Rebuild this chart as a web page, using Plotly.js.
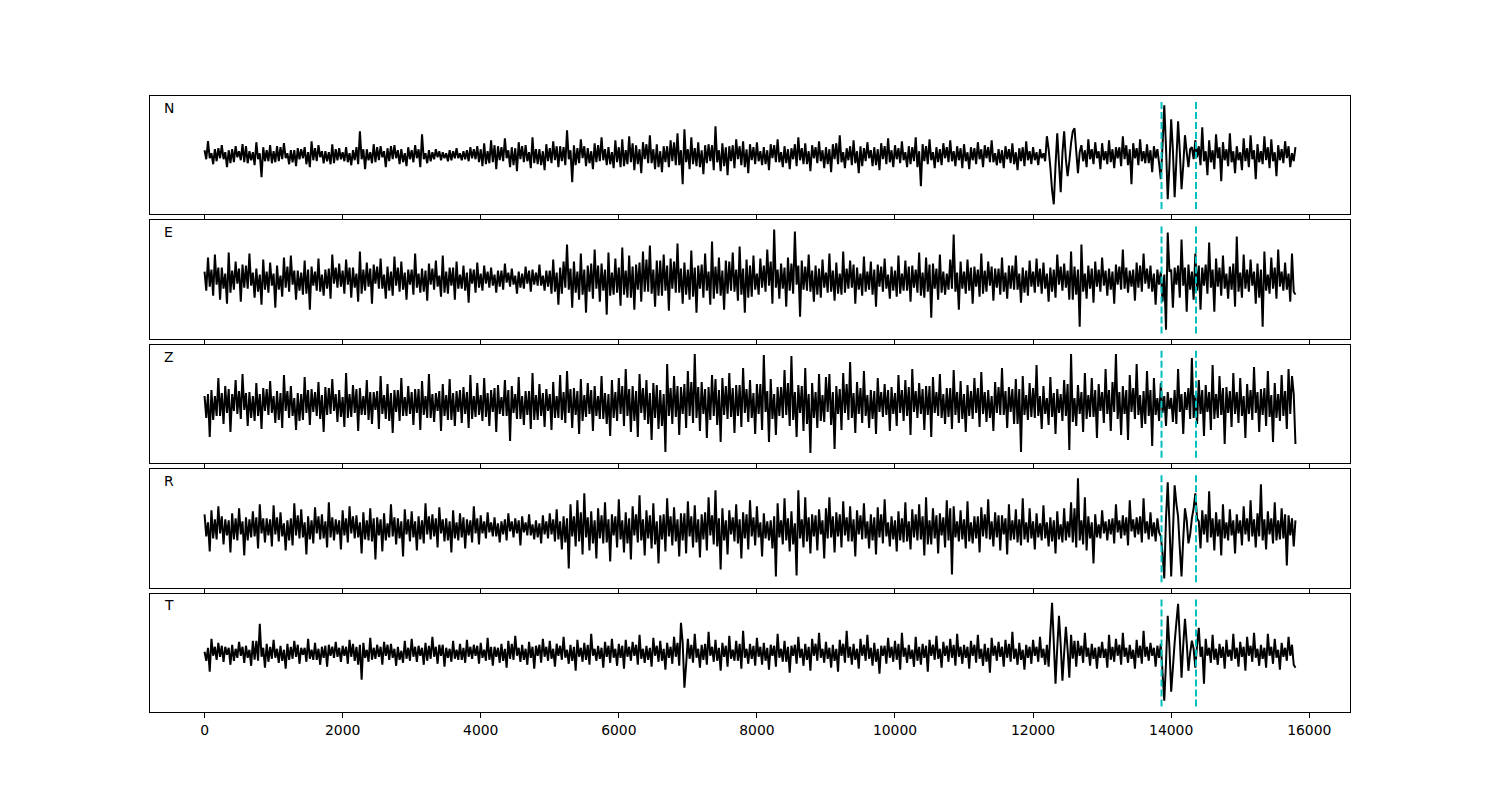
<!DOCTYPE html>
<html>
<head>
<meta charset="utf-8">
<script src="https://cdn.plot.ly/plotly-3.0.1.min.js"></script>
<style>html,body{margin:0;padding:0;background:#fff;}#chart{width:1500px;height:800px;}</style>
</head>
<body>
<div id="chart"></div>
<script>
const sampleStep = 25;
const channelNames = ["N", "E", "Z", "R", "T"];
const pickTimes = [13860, 14360];
const pickExtent = 53.8;
const xTickVals = [0, 2000, 4000, 6000, 8000, 10000, 12000, 14000, 16000];
const xTickText = ["0", "2000", "4000", "6000", "8000", "10000", "12000", "14000", "16000"];

const traceN = [
5,-4,14,-3,2,-9,6,-6,7,-3,10,-4,3,-12,5,-8,6,-7,9,-2,4,-5,11,-7,9,-8,4,-5,3,-10,13,-4,2,-22,8,-6,5,-6,10,-8,
4,-7,9,-6,8,-4,12,-3,2,-9,5,-7,5,-11,7,-4,6,-3,8,-9,3,-12,14,-5,7,-6,10,-2,4,-8,4,-6,3,-9,11,-8,6,-5,7,-4,
3,-6,8,-7,2,-10,5,-5,8,-9,24,-4,6,-14,6,-5,3,-8,11,-7,8,-5,9,-2,4,-12,7,-6,9,-4,10,-3,5,-9,6,-7,2,-11,8,-4,
5,-7,10,-3,6,-12,21,-4,2,-8,5,-6,3,-4,6,-2,4,-5,3,-3,2,-6,5,-5,4,-3,7,-3,2,-5,4,-4,5,-6,8,-3,6,-4,9,-7,
6,-11,12,-9,4,-8,15,-7,10,-14,9,-5,8,-6,17,-3,5,-12,8,-10,7,-16,13,-4,9,-7,10,-6,3,-13,18,-8,6,-9,6,-10,4,-15,11,-6,
7,-8,14,-5,9,-12,9,-6,8,-10,25,-4,5,-27,10,-10,7,-8,16,-3,9,-11,7,-8,4,-14,12,-7,10,-6,18,-5,6,-10,8,-9,3,-13,15,-7,
8,-12,16,-11,5,-9,19,-7,12,-15,10,-9,6,-18,13,-4,11,-8,20,-8,6,-14,11,-12,4,-17,9,-7,9,-12,15,-6,13,-10,22,-10,5,-29,26,-7,
6,-14,18,-9,7,-11,13,-12,5,-19,10,-8,11,-6,10,-15,29,-7,5,-16,12,-11,8,-20,9,-6,10,-13,16,-4,9,-10,14,-12,6,-18,11,-5,8,-9,
13,-6,4,-10,8,-9,5,-15,11,-3,10,-7,16,-7,3,-12,9,-8,6,-14,7,-4,11,-11,18,-5,7,-9,12,-9,4,-16,10,-3,8,-8,14,-6,5,-13,
8,-9,6,-17,11,-4,12,-9,20,-7,3,-13,7,-5,9,-10,15,-8,4,-18,9,-11,7,-6,13,-3,5,-11,8,-10,6,-15,12,-4,9,-9,17,-7,5,-12,
10,-4,7,-8,14,-5,3,-12,9,-9,8,-6,18,-12,4,-31,11,-6,9,-9,16,-5,3,-13,8,-7,6,-10,12,-3,8,-7,15,-6,4,-11,9,-5,7,-13,
11,-6,3,-14,8,-5,7,-9,13,-4,6,-12,10,-3,8,-7,15,-7,2,-10,6,-8,5,-13,9,-4,6,-8,12,-9,3,-15,7,-6,8,-11,14,-5,4,-9,
8,-5,3,-10,6,-3,2,-6,19,6,-12,-35,-49,-10,22,-8,-37,2,24,-4,-21,-6,12,24,27,4,-18,3,10,-6,5,-12,16,-4,6,-9,13,-3,4,-14,
12,-5,4,-9,15,-7,6,-13,8,-3,8,-11,19,-4,10,-10,6,-29,12,-3,7,-10,16,-6,4,-8,11,-8,5,-17,9,-3,6,-8,-24,10,50,8,-44,-10,
36,5,-42,-6,34,4,-34,-10,20,3,-12,6,8,-4,15,-2,9,-10,28,-6,4,-20,15,-7,5,-14,21,-3,8,-26,13,-5,6,-11,22,-7,4,-18,9,-5,
3,-15,17,-6,7,-12,20,-4,5,-24,11,-7,4,-9,19,-5,8,-13,16,-6,3,-21,10,-5,6,-8,14,-3,9,-12,2,-6,8
];
const traceE = [
8,-11,22,-7,10,-16,25,-5,12,-20,12,-9,6,-24,27,-13,9,-10,18,-4,11,-22,15,-8,14,-9,26,-6,7,-18,11,-12,5,-25,20,-10,8,-13,17,-6,
6,-28,14,-10,4,-17,22,-8,13,-12,24,-5,9,-20,9,-11,7,-15,19,-14,10,-30,13,-6,8,-11,21,-12,5,-16,10,-9,11,-19,25,-4,12,-8,16,-7,
9,-14,20,-5,12,-18,12,-8,6,-22,28,-14,10,-11,17,-7,11,-24,15,-4,13,-9,21,-9,5,-19,13,-11,8,-16,23,-6,12,-12,18,-10,7,-20,10,-5,
10,-15,26,-8,6,-13,11,-12,9,-21,16,-5,11,-10,19,-7,4,-17,24,-13,8,-14,12,-6,12,-20,18,-9,5,-9,14,-11,7,-23,11,-4,10,-13,17,-8,
6,-11,14,-4,8,-8,12,-6,5,-13,9,-7,9,-10,16,-3,7,-7,11,-5,4,-14,8,-8,6,-9,13,-4,9,-12,10,-5,7,-6,15,-6,4,-11,9,-7,
9,-14,20,-12,7,-25,12,-14,18,-8,35,-10,11,-28,18,-13,8,-20,26,-15,10,-33,14,-12,16,-19,30,-9,14,-22,16,-11,10,-35,27,-16,7,-15,21,-13,
12,-26,32,-15,9,-18,24,-18,13,-30,15,-10,17,-22,28,-12,20,-12,34,-14,10,-27,19,-16,19,-16,25,-11,14,-31,21,-9,18,-13,36,-13,11,-24,17,-15,
10,-20,29,-17,12,-33,14,-9,15,-18,26,-11,8,-25,38,-19,13,-14,22,-16,9,-30,19,-14,18,-11,27,-12,10,-21,33,-15,11,-33,20,-18,14,-17,24,-10,
6,-15,21,-8,14,-12,30,-6,18,-24,50,-8,10,-19,16,-9,12,-27,22,-11,16,-14,48,-5,14,-37,19,-10,13,-11,25,-12,9,-22,14,-15,11,-18,20,-8,
7,-13,26,-12,9,-21,17,-14,6,-15,28,-13,11,-9,19,-8,15,-24,12,-10,6,-16,23,-12,8,-10,18,-15,10,-27,15,-7,13,-12,21,-9,5,-19,13,-11,
9,-17,24,-14,6,-11,19,-11,13,-22,14,-8,10,-13,27,-16,7,-18,22,-12,15,-38,16,-9,11,-20,25,-13,8,-15,6,-10,20,-9,45,-12,7,-30,18,-9,
8,-14,20,-11,12,-24,13,-7,10,-17,26,-14,9,-12,18,-6,13,-21,11,-8,11,-15,22,-12,7,-19,14,-9,14,-10,24,-10,6,-23,12,-13,9,-16,19,-7,
8,-13,21,-7,11,-14,17,-9,6,-22,12,-12,10,-18,25,-5,13,-11,16,-8,9,-20,28,-20,13,-15,10,-47,35,-12,6,-19,14,-9,11,-23,18,-7,10,-12,
22,-6,9,-16,11,-10,8,-24,15,-5,13,-10,30,-9,12,-13,9,-7,10,-21,17,-8,14,-12,26,-4,11,-9,14,-12,6,-25,10,-5,8,-22,5,-50,47,8,
10,-28,12,-5,14,-18,40,-6,12,-32,15,-10,8,-20,26,-11,14,-30,12,-6,15,-14,37,-8,10,-32,21,-7,12,-16,24,-9,6,-19,13,-10,16,-27,43,-12,
7,-18,25,-9,10,-12,20,-6,8,-24,16,-18,10,-47,28,-11,5,-14,22,-9,12,-19,30,-7,8,-11,17,-10,6,-22,26,-12,-15
];
const traceZ = [
8,-14,10,-33,14,-16,8,-12,26,-12,11,-20,18,-9,15,-28,10,-7,24,-10,13,-15,30,-6,11,-22,12,-14,8,-17,21,-12,10,-25,16,-7,15,-11,23,-9,
8,-19,13,-16,11,-24,29,-7,13,-14,18,-12,6,-26,11,-17,10,-16,27,-9,14,-21,15,-8,12,-12,22,-15,9,-28,17,-11,16,-10,25,-7,10,-18,14,-13,
7,-23,31,-14,10,-13,19,-9,15,-27,16,-11,8,-11,24,-16,12,-20,12,-6,13,-25,28,-10,9,-15,20,-17,11,-29,14,-8,14,-17,26,-12,7,-12,18,-10,
12,-21,15,-9,15,-26,23,-11,8,-14,30,-14,10,-18,11,-7,13,-27,20,-12,9,-16,25,-16,11,-22,13,-8,14,-19,17,-10,12,-24,29,-15,8,-13,21,-11,
9,-17,26,-13,11,-22,14,-8,16,-28,19,-10,7,-12,24,-12,14,-37,18,-9,10,-15,27,-15,8,-21,13,-11,13,-25,31,-16,9,-16,20,-12,11,-23,15,-7,
10,-26,22,-14,8,-14,29,-16,12,-19,33,-9,15,-24,16,-11,13,-30,25,-17,9,-13,21,-10,14,-27,18,-12,8,-15,28,-15,11,-20,10,-32,24,-14,12,-17,
26,-10,18,-22,35,-12,15,-28,18,-17,13,-33,30,-9,16,-16,24,-20,11,-36,21,-14,19,-25,14,-22,10,-48,40,-12,16,-20,28,-13,18,-31,17,-10,20,-24,
33,-12,22,-19,50,-14,17,-27,22,-10,15,-34,17,-16,29,-12,25,-21,14,-38,26,-11,18,-15,31,-13,16,-29,19,-12,19,-23,36,-9,15,-18,24,-14,11,-30,
20,-10,20,-26,49,-8,13,-38,25,-15,10,-31,17,-12,17,-14,34,-11,21,-22,48,-16,12,-33,19,-9,18,-27,36,-20,10,-49,21,-14,12,-24,30,-17,9,-18,
27,-8,30,-21,12,-45,18,-10,15,-26,31,-9,20,-16,42,-14,11,-29,22,-10,16,-19,33,-12,9,-24,14,-15,13,-30,26,-8,12,-13,20,-11,14,-27,17,-10,
11,-22,29,-9,14,-17,24,-12,17,-31,35,-8,13,-14,21,-10,15,-26,18,-11,18,-33,27,-9,12,-12,30,-14,10,-20,16,-13,16,-25,34,-11,12,-19,23,-15,
10,-28,19,-12,13,-15,26,-9,16,-23,32,-10,12,-18,14,-14,8,-27,22,-9,17,-11,36,-11,13,-24,17,-8,15,-20,25,-20,15,-48,28,-11,9,-16,21,-13,
16,-14,39,-12,8,-25,18,-10,6,-21,27,-13,11,-30,15,-9,10,-17,24,-12,20,-46,50,-18,6,-22,19,-10,12,-28,31,-15,9,-13,26,-13,14,-34,20,-7,
12,-19,35,-10,14,-27,22,-8,50,-15,12,-31,18,-10,14,-36,29,-8,16,-15,40,-11,9,-24,13,-20,33,-12,14,-42,26,-11,6,-17,21,-9,8,-22,12,-5,
6,-18,14,-20,35,-8,10,-30,12,-6,16,-15,46,-14,9,-20,24,-10,14,-32,19,-8,12,-26,39,-15,10,-14,28,-11,16,-40,17,-9,13,-23,31,-10,12,-19,
26,-12,8,-34,20,-10,14,-16,37,-9,12,-28,15,-11,16,-22,33,-13,9,-38,21,-14,10,-17,29,-12,13,-25,35,-10,28,10,-40
];
const traceR = [
14,-8,6,-23,18,-10,9,-11,22,-5,12,-16,9,-7,8,-24,15,-11,10,-12,20,-6,7,-27,11,-12,9,-9,17,-8,11,-20,24,-5,10,-14,10,-7,9,-18,
23,-6,11,-13,16,-8,5,-22,8,-12,10,-17,25,-7,13,-10,19,-9,6,-26,12,-11,8,-15,21,-5,12,-11,14,-10,7,-19,26,-9,11,-12,9,-6,8,-21,
18,-7,10,-14,22,-5,12,-10,13,-9,6,-25,16,-11,8,-12,20,-13,10,-31,11,-7,9,-23,15,-12,5,-9,24,-8,11,-16,10,-10,7,-28,19,-6,9,-13,
17,-9,7,-22,12,-11,8,-15,25,-6,12,-11,14,-8,10,-19,21,-5,9,-13,10,-12,7,-24,18,-10,6,-12,15,-9,11,-20,9,-7,8,-14,22,-5,10,-16,
13,-5,7,-10,16,-4,6,-8,11,-8,5,-14,7,-6,9,-12,15,-3,7,-9,10,-5,8,-17,12,-4,6,-7,14,-7,4,-11,8,-9,5,-15,13,-6,7,-10,
15,-6,9,-13,19,-11,7,-21,12,-14,10,-40,24,-8,12,-18,28,-13,16,-26,35,-9,11,-22,17,-15,8,-30,20,-10,13,-15,26,-14,9,-33,14,-7,12,-19,
29,-11,8,-24,16,-15,10,-31,22,-7,14,-14,33,-12,9,-27,18,-10,13,-20,25,-16,7,-35,13,-11,14,-23,30,-8,12,-17,21,-13,9,-28,15,-12,15,-25,
27,-8,12,-19,23,-14,9,-29,14,-11,16,-22,31,-7,13,-16,38,-18,10,-41,20,-12,8,-26,18,-6,11,-13,24,-15,9,-30,16,-10,14,-21,28,-8,11,-17,
22,-9,6,-28,15,-10,7,-12,8,-20,12,-48,25,-9,8,-16,30,-12,10,-23,17,-16,5,-47,38,-10,9,-19,31,-13,11,-25,14,-8,13,-22,19,-6,8,-30,
20,-10,31,-9,12,-24,16,-8,14,-19,27,-7,11,-13,22,-13,9,-28,18,-6,13,-11,25,-10,7,-20,14,-12,11,-26,21,-9,14,-15,29,-8,6,-18,12,-11,
8,-23,17,-12,10,-14,26,-13,7,-21,19,-9,14,-12,24,-11,12,-27,31,-16,8,-16,20,-10,13,-25,15,-7,11,-19,28,-12,20,-46,22,-9,7,-13,18,-11,
9,-20,27,-13,6,-15,12,-10,12,-24,21,-8,14,-10,29,-11,7,-18,16,-9,13,-22,13,-6,10,-26,24,-12,8,-11,19,-14,9,-17,30,-11,6,-14,20,-10,
7,-21,15,-9,5,-12,23,-10,6,-18,11,-13,8,-25,17,-11,4,-14,20,-12,7,-9,26,-14,20,-19,50,-12,8,-16,31,-22,12,-10,6,-35,14,-9,4,-10,
18,-5,7,-12,9,-6,10,-15,24,-4,8,-10,13,-7,11,-17,28,-3,9,-9,11,-6,12,-14,30,-5,7,-11,16,-8,6,-13,10,-4,-8,-25,-50,10,46,5,
-48,-5,43,25,12,-20,-48,-10,20,8,-15,-6,10,20,35,10,7,-20,18,-6,14,-14,37,-9,10,-22,16,-8,9,-27,24,-10,6,-12,19,-7,8,-25,14,-5,
8,-17,22,-6,10,-13,28,-8,9,-19,15,-8,44,-12,9,-21,17,-6,10,-15,26,-12,8,-11,20,-10,14,-37,13,-7,10,-18,8
];
const traceT = [
1,-8,5,-19,14,-3,6,-7,10,-4,7,-9,6,-2,5,-12,8,-8,4,-5,11,-3,6,-10,7,-5,3,-13,12,-7,12,-8,29,-4,5,-15,9,-9,6,-6,
13,-5,4,-10,7,-8,3,-16,9,-7,6,-6,12,-4,8,-11,5,-2,5,-9,14,-6,3,-7,10,-7,4,-12,6,-5,7,-14,8,-3,6,-5,11,-4,5,-9,
7,-3,6,-11,13,-4,9,-8,6,-12,8,-27,10,-5,3,-9,15,-7,5,-6,8,-4,6,-12,11,-3,8,-7,9,-5,4,-13,6,-7,2,-10,12,-6,5,-8,
14,-4,6,-9,7,-3,5,-12,10,-8,7,-6,16,-4,6,-11,8,-3,8,-14,5,-5,4,-9,12,-6,3,-7,9,-7,5,-10,13,-4,6,-6,8,-3,7,-11,
10,-5,3,-8,15,-7,6,-13,6,-4,5,-10,9,-8,4,-15,12,-6,9,-7,17,-3,5,-9,8,-7,4,-12,11,-5,6,-16,7,-3,8,-10,14,-4,6,-8,
12,-6,4,-14,9,-3,7,-7,16,-5,3,-11,8,-8,6,-18,13,-4,5,-9,10,-7,8,-12,19,-3,4,-8,7,-6,5,-15,11,-4,7,-10,14,-5,4,-13,
9,-5,7,-16,13,-4,6,-8,11,-3,8,-12,18,-6,4,-10,7,-7,5,-14,15,-3,7,-9,12,-8,4,-17,10,-5,6,-11,16,-4,10,-13,30,10,-35,-12,
14,-6,8,-10,19,-5,4,-15,8,-7,9,-12,21,-3,6,-9,13,-8,5,-18,10,-4,7,-14,17,-6,3,-8,12,-8,9,-16,22,-5,4,-11,9,-6,7,-13,
15,-4,6,-12,10,-8,5,-17,8,-3,7,-14,19,-5,4,-9,12,-9,6,-20,7,-3,8,-11,16,-5,4,-13,9,-7,6,-18,14,-3,9,-8,20,-5,4,-10,
11,-6,5,-15,8,-8,4,-19,13,-3,9,-10,22,-5,6,-12,9,-7,4,-16,14,-3,8,-8,18,-6,5,-13,10,-9,4,-21,7,-3,7,-11,15,-5,6,-9,
12,-7,9,-17,20,-4,5,-10,8,-6,3,-14,16,-8,6,-12,9,-5,7,-19,13,-3,8,-7,17,-6,4,-15,11,-3,7,-9,14,-5,8,-13,19,-4,6,-11,
8,-5,6,-16,12,-3,8,-10,18,-6,4,-13,9,-9,5,-20,15,-3,7,-8,11,-4,6,-14,13,-5,9,-9,21,-6,4,-12,10,-7,3,-17,8,-5,6,-11,
13,-3,6,-9,16,-5,4,-12,8,-14,20,50,10,-31,5,37,8,-28,0,26,3,-25,18,-6,12,-14,12,-3,7,-10,20,-4,5,-13,9,-6,5,-16,6,-5,
11,-5,4,-15,18,-7,6,-9,14,-3,8,-12,20,-4,5,-10,8,-6,3,-16,13,-5,7,-11,22,-4,6,-8,10,-3,5,-14,7,-5,9,-20,-48,-10,37,5,
-39,-15,10,30,49,15,-25,8,34,10,-18,0,12,4,-15,8,25,-4,6,-31,14,-3,5,-10,18,-7,4,-12,9,-5,6,-16,13,-4,3,-8,19,-6,5,-14,
11,-4,6,-18,16,-3,7,-9,20,-5,4,-13,8,-6,5,-15,19,-3,6,-11,14,-5,3,-17,10,-4,5,-8,16,-3,8,-12,-15
];

const series = [traceN, traceE, traceZ, traceR, traceT];

const FONT = "DejaVu Sans, Verdana, sans-serif";
const nP = series.length;
const plotH = 800 - 96 - 88;
const panelH = plotH / (nP + (nP - 1) * 0.05);
const gapH = panelH * 0.05;

const data = [];
const layout = {
  width: 1500, height: 800,
  margin: {l: 150, r: 150, t: 96, b: 88, pad: 0},
  paper_bgcolor: "#ffffff", plot_bgcolor: "#ffffff",
  showlegend: false,
  font: {family: FONT, size: 13.9, color: "#000"},
  shapes: [], annotations: []
};

series.forEach((vals, k) => {
  const sfx = k === 0 ? "" : String(k + 1);
  const xs = vals.map((v, i) => i * sampleStep);
  data.push({
    type: "scatter", mode: "lines", x: xs, y: vals,
    xaxis: "x" + sfx, yaxis: "y" + sfx,
    line: {color: "#000000", width: 2, simplify: false}, hoverinfo: "skip"
  });
  const top = 1 - k * (panelH + gapH) / plotH;
  const bot = top - panelH / plotH;
  const isLast = k === nP - 1;
  layout["xaxis" + sfx] = {
    domain: [0, 1], anchor: "y" + sfx, range: [-790, 16590],
    showgrid: false, zeroline: false,
    showline: true, mirror: true, linecolor: "#000", linewidth: 1,
    ticks: "outside", ticklen: 5, tickwidth: 1, tickcolor: "#000",
    tickvals: xTickVals, ticktext: xTickText,
    showticklabels: isLast,
    tickfont: {family: FONT, size: 13.9, color: "#000"}
  };
  layout["yaxis" + sfx] = {
    domain: [Math.max(0, bot), Math.min(1, top)], anchor: "x" + sfx,
    range: [-1.1 * pickExtent, 1.1 * pickExtent],
    showgrid: false, zeroline: false, showticklabels: false, ticks: "",
    showline: true, mirror: true, linecolor: "#000", linewidth: 1
  };
  pickTimes.forEach(t => {
    layout.shapes.push({
      type: "line", xref: "x" + sfx, yref: "y" + sfx,
      x0: t, x1: t, y0: -pickExtent, y1: pickExtent,
      line: {color: "#00bfbf", width: 2, dash: "7px,3px"}
    });
  });
  layout.annotations.push({
    xref: "x" + sfx + " domain", yref: "y" + sfx + " domain",
    x: 0.01, y: 0.9, xanchor: "left", yanchor: "middle",
    text: channelNames[k], showarrow: false,
    font: {family: FONT, size: 13.9, color: "#000"}
  });
});

Plotly.newPlot("chart", data, layout, {staticPlot: true, displayModeBar: false});
</script>
</body>
</html>
